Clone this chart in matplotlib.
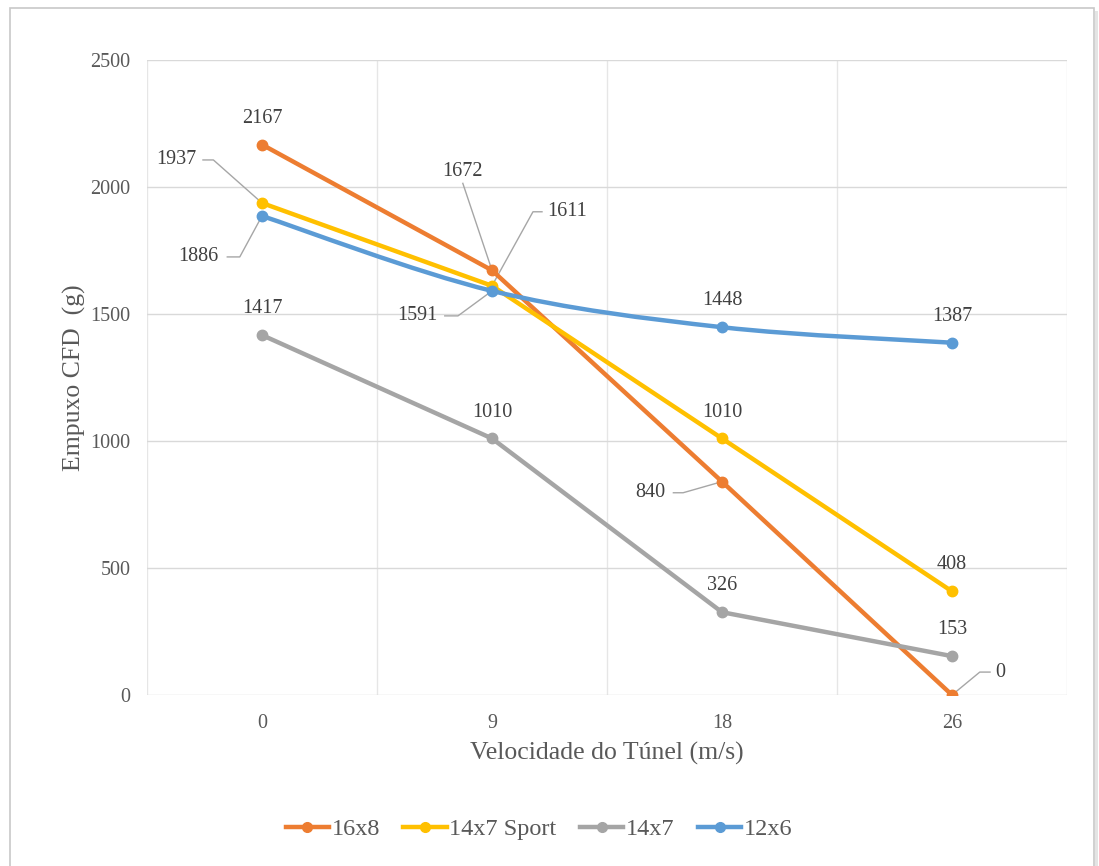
import matplotlib.pyplot as plt
from matplotlib.path import Path
from matplotlib.patches import PathPatch, Rectangle
from matplotlib.lines import Line2D
from matplotlib.transforms import Affine2D, ScaledTranslation

# Velocidade do tunel (m/s) and CFD thrust (g) for each propeller
velocidades = ["0", "9", "18", "26"]
helices = ["16x8", "14x7 Sport", "14x7", "12x6"]
empuxo_16x8 = [2167, 1672, 840, 0]
empuxo_14x7_sport = [1937, 1611, 1010, 408]
empuxo_14x7 = [1417, 1010, 326, 153]
empuxo_12x6 = [1886, 1591, 1448, 1387]

series = [empuxo_16x8, empuxo_14x7_sport, empuxo_14x7, empuxo_12x6]
cores = ["#ED7D31", "#FFC000", "#A5A5A5", "#5B9BD5"]
suavizada = [False, False, False, True]

# labels that sit away from their point, with a leader line (all in points):
# (serie, ponto): (text offset, alignment, leader vertices)
guias = {
    (1, 0): ((-47, 31), "right", [(-42.5, 31), (-35, 31), (0, 0)]),
    (3, 0): ((-31, -29.5), "right", [(-25, -29.5), (-16, -29.5), (0, 0)]),
    (0, 1): ((-21.6, 71), "center", [(-21, 62.6), (0, 0)]),
    (1, 1): ((39.6, 53.3), "left", [(36, 53.3), (29.5, 53.3), (0, 0)]),
    (3, 1): ((-39.6, -18), "right", [(-34, -18), (-24.5, -18), (0, 0)]),
    (0, 2): ((-41, -8), "right", [(-35, -8), (-28, -8), (0, 0)]),
    (0, 3): ((31, 16.5), "left", [(27.4, 16.5), (20, 16.5), (0, 0)]),
}

plt.rcParams['font.family'] = ['Liberation Serif', 'DejaVu Serif']

fig = plt.figure(figsize=(10.99, 8.66), dpi=100)
fig.patches.append(Rectangle((10 / 1099, -0.02), 1084 / 1099, 1 - 8 / 866 + 0.02,
                             transform=fig.transFigure, fill=False,
                             edgecolor="#c8c8c8", linewidth=1.2))
fig.patches.append(Rectangle((1095 / 1099, -0.02), 3 / 1099, 1 - 11 / 866 + 0.02,
                             transform=fig.transFigure, facecolor="#e4e4e4",
                             edgecolor="none"))

ax = fig.add_axes([147 / 1099, 1 - 695 / 866, 920 / 1099, 635 / 866])
x = list(range(len(velocidades)))
pts_to_px = Affine2D().scale(fig.dpi / 72)


def curva_suave(xs, ys):
    # cubic Bezier through each point (Catmull-Rom style tangents)
    pts = list(zip(xs, ys))
    verts = [pts[0]]
    codes = [Path.MOVETO]
    n = len(pts)
    for i in range(n - 1):
        p0 = pts[max(i - 1, 0)]
        p1 = pts[i]
        p2 = pts[i + 1]
        p3 = pts[min(i + 2, n - 1)]
        c1 = (p1[0] + (p2[0] - p0[0]) / 6, p1[1] + (p2[1] - p0[1]) / 6)
        c2 = (p2[0] - (p3[0] - p1[0]) / 6, p2[1] - (p3[1] - p1[1]) / 6)
        verts += [c1, c2, p2]
        codes += [Path.CURVE4] * 3
    return Path(verts, codes)


for k, (ys, cor) in enumerate(zip(series, cores)):
    if suavizada[k]:
        ax.add_patch(PathPatch(curva_suave(x, ys), facecolor="none", edgecolor=cor,
                               linewidth=3.2, capstyle="round", zorder=3 + k * 0.1))
        ax.plot(x, ys, linestyle="none", marker="o", markersize=7.5, color=cor,
                zorder=3 + k * 0.1)
    else:
        ax.plot(x, ys, color=cor, linewidth=3.2, marker="o", markersize=7.5,
                solid_joinstyle="round", zorder=3 + k * 0.1)

for k, ys in enumerate(series):
    for i, v in enumerate(ys):
        if (k, i) in guias:
            (dx, dy), ha, verts = guias[(k, i)]
            trans = pts_to_px + ScaledTranslation(x[i], v, ax.transData)
            ax.add_line(Line2D([p[0] for p in verts], [p[1] for p in verts],
                               transform=trans, color="#a6a6a6", linewidth=1,
                               zorder=2.5))
        else:
            (dx, dy), ha = (0, 19), "center"
        ax.annotate(str(v), (x[i], v), xytext=(dx, dy), textcoords="offset points",
                    ha=ha, va="center", fontsize=14.5, color="#404040")

ax.set_xlim(-0.5, len(velocidades) - 0.5)
ax.set_ylim(0, 2500)
ax.set_yticks(range(0, 2501, 500))
ax.set_xticks(x)
ax.set_xticklabels(velocidades)
ax.set_xticks([i - 0.5 for i in range(len(velocidades) + 1)], minor=True)
ax.grid(True, which="major", axis="y", color="#d9d9d9", linewidth=1)
ax.grid(True, which="minor", axis="x", color="#e6e6e6", linewidth=1)
ax.set_axisbelow(True)
for s in ax.spines.values():
    s.set_visible(False)
ax.tick_params(which="both", length=0)
ax.tick_params(axis="y", labelsize=14.5, labelcolor="#595959", pad=12)
ax.tick_params(axis="x", labelsize=14.5, labelcolor="#595959", pad=14)

ax.set_ylabel("Empuxo CFD  (g)", fontsize=18.5, color="#595959", labelpad=3)
ax.set_xlabel("Velocidade do Túnel (m/s)", fontsize=18.5, color="#595959", labelpad=6)

handles = [Line2D([], [], color=c, linewidth=3.2, marker="o", markersize=7) for c in cores]
fig.legend(handles, helices, loc="center", bbox_to_anchor=(539 / 1099, 1 - 829 / 866),
           ncol=4, frameon=False, fontsize=17.5, labelcolor="#595959",
           handlelength=1.8, handletextpad=0.1, columnspacing=0.95)

fig.savefig("out.png", dpi=100)
